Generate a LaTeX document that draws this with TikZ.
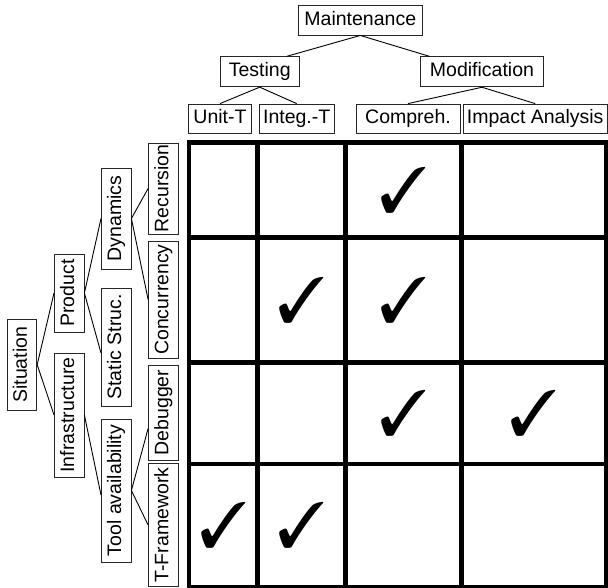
\documentclass[tikz,border=0pt]{standalone}
\usepackage{fontspec}
\setmainfont{Liberation Sans}
\usepackage{pifont}
\usetikzlibrary{calc}

\begin{document}
\begin{tikzpicture}[x=1pt,y=-1pt]
    \useasboundingbox (0,0) rectangle (608,587);
    % headers on top
    \begin{scope}
        \tikzstyle{every node}=[fill=white, draw=black!85, line width=0.9pt, inner sep=0pt, minimum height=30, text height=14, text depth=4, font=\fontsize{19.5}{22}\selectfont]
        \node[minimum width=124] (maint) at (360.3,20) {Maintenance};
        \node[minimum width=79] (testing) at (259.7,71.7) {Testing};
        \node[minimum width=122.6] (modif) at (482,71.8) {Modification};
        \node[minimum width=63.4, minimum height=29.3] (unitt) at (220,118.7) {Unit-T};
        \node[minimum width=74.7, minimum height=29.3] (integt) at (296.7,118.7) {Integ.-T};
        \node[minimum width=104, minimum height=29.3] (compr) at (408,118.7) {Compreh.};
        \node[minimum width=143.7, minimum height=29.3] (impact) at (535.2,118.7) {Impact Analysis};
    \end{scope}
    % headers on the left
    \begin{scope}
        \tikzstyle{every node}=[fill=white, draw=black!85, line width=0.9pt, inner sep=0pt, rotate=90, minimum height=29.5, text height=14, text depth=4, font=\fontsize{19.5}{22}\selectfont]
        \node[minimum width=90.7] (situ) at (22,364.7) {Situation};
        \node[minimum width=78] (product) at (69.2,293) {Product};
        \node[minimum width=124] (infra) at (69.2,415) {Infrastructure};
        \node[minimum width=101] (dyn) at (116.2,218.5) {Dynamics};
        \node[minimum width=118] (static) at (116.2,347) {Static Struc.};
        \node[minimum width=143] (tool) at (116.2,490.5) {Tool availability};
        \node[minimum width=91] (recur) at (163.3,188.5) {Recursion};
        \node[minimum width=117] (concur) at (163.3,299.5) {Concurrency};
        \node[minimum width=95] (debug) at (163.3,412.5) {Debugger};
        \node[minimum width=123] (tframe) at (163.3,525) {T-Framework};
    \end{scope}
    \begin{scope}
        \tikzstyle{every edge}=[draw, line width=0.9pt]
        \path
        (maint.south) edge ($(testing.north east)+(-12.6,0)$)
        (maint.south) edge ($(modif.north west)+(9.3,0)$)
        (testing.south) edge (unitt.north)
        (testing.south) edge (integt.north)
        (modif.south) edge (compr.north)
        (modif.south) edge (impact.north)
        (situ.south) edge (product.north)
        (situ.south) edge (infra.north)
        (product.south) edge (dyn.north)
        (product.south) edge ($(static.north)+(0,6)$)
        (infra.south) edge ($(tool.north)+(0,4.5)$)
        (dyn.south) edge (recur.north)
        (dyn.south) edge (concur.north)
        (tool.south) edge ($(debug.north)+(0,16)$)
        (tool.south) edge (tframe.north);
    \end{scope}
    % the grid
    \draw[line width=4.5pt] (188.8,142.5) rectangle (606.3,587.3);
    \foreach \x in {257.5,345.5,461.5}
        \draw[line width=4.5pt] (\x,142.5) -- (\x,587.3);
    \foreach \y in {237.5,362.5,464}
        \draw[line width=4.5pt] (188.8,\y) -- (606.3,\y);
    % marks
    \begin{scope}
        \tikzstyle{every node}=[inner sep=0pt, text=black, font=\fontsize{64}{64}\selectfont]
        \node (c13) at (403.5,190) {\ding{51}};
        \node (c22) at (301.5,300) {\ding{51}};
        \node (c23) at (403.5,300) {\ding{51}};
        \node (c33) at (403.5,413.2) {\ding{51}};
        \node (c34) at (533.9,413.2) {\ding{51}};
        \node (c41) at (223.2,525.6) {\ding{51}};
        \node (c42) at (301.5,525.6) {\ding{51}};
    \end{scope}
\end{tikzpicture}
\end{document}
